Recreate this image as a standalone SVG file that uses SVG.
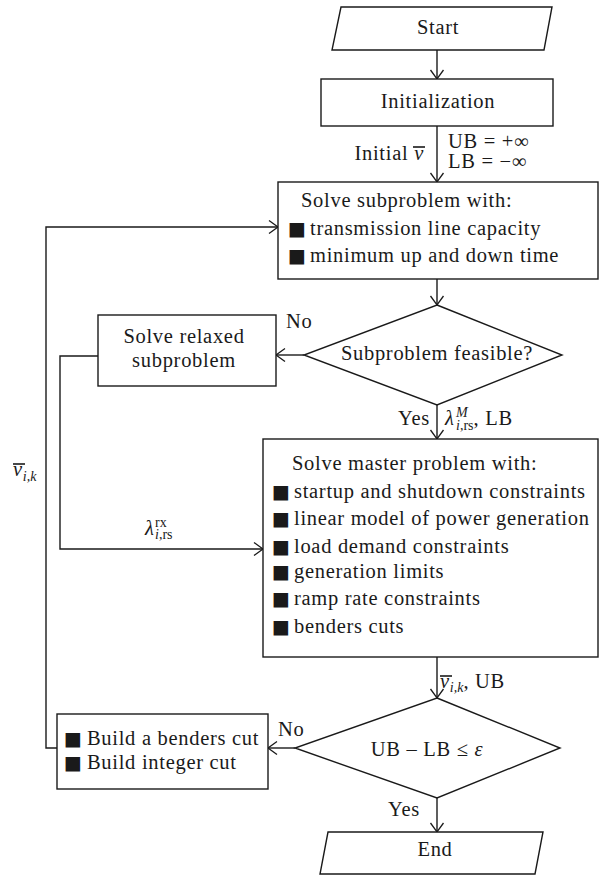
<svg xmlns="http://www.w3.org/2000/svg" width="600" height="877" viewBox="0 0 600 877">
<style>
text{font-family:"Liberation Serif","Times New Roman",serif;font-size:20.5px;fill:#1a1a1a;letter-spacing:0.7px}
.c{text-anchor:middle}
.e{text-anchor:end}
.it{font-style:italic}
.sm{font-size:14px;letter-spacing:0}
.b{font-family:"DejaVu Sans",sans-serif;font-size:19px;letter-spacing:0}
.shape{fill:#fff;stroke:#1a1a1a;stroke-width:1.4}
.ln{fill:none;stroke:#1a1a1a;stroke-width:1.4}
.bar{stroke:#1a1a1a;stroke-width:1.6}
</style>
<defs>
<marker id="ah" viewBox="-11 -8 13 16" refX="0" refY="0" markerWidth="13" markerHeight="16" markerUnits="userSpaceOnUse" orient="auto">
<path d="M-9,-6.5 L0,0 L-9,6.5" fill="none" stroke="#1a1a1a" stroke-width="1.3"/>
</marker>
</defs>
<rect width="600" height="877" fill="#fff"/>
<g id="connectors">
<line class="ln" x1="437" y1="50" x2="437" y2="79" marker-end="url(#ah)"/>
<line class="ln" x1="437" y1="126" x2="437" y2="182" marker-end="url(#ah)"/>
<line class="ln" x1="437" y1="279" x2="437" y2="305" marker-end="url(#ah)"/>
<line class="ln" x1="304" y1="355" x2="276" y2="355" marker-end="url(#ah)"/>
<path class="ln" d="M98,356 H60 V549 H263" marker-end="url(#ah)"/>
<line class="ln" x1="437" y1="405" x2="437" y2="439" marker-end="url(#ah)"/>
<line class="ln" x1="437" y1="657" x2="437" y2="698" marker-end="url(#ah)"/>
<line class="ln" x1="295" y1="748" x2="268" y2="748" marker-end="url(#ah)"/>
<path class="ln" d="M57,748 H46 V227 H278" marker-end="url(#ah)"/>
<line class="ln" x1="437" y1="798" x2="437" y2="832" marker-end="url(#ah)"/>
</g>
<g id="labels">
<text x="424" y="160" class="e">Initial <tspan class="it">ν</tspan></text>
<line class="bar" x1="413" y1="147" x2="425" y2="147"/>
<text x="448" y="148">UB = +∞</text>
<text x="448" y="168">LB = −∞</text>
<text x="286" y="328">No</text>
<text x="398" y="425">Yes</text>
<text x="445" y="425"><tspan class="it">λ</tspan><tspan x="456" dy="-8" class="sm it">M</tspan><tspan x="456" dy="13" class="sm"><tspan class="it">i</tspan>,rs</tspan><tspan dy="-5">, LB</tspan></text>
<text x="145" y="535"><tspan class="it">λ</tspan><tspan x="155" dy="-8" class="sm">rx</tspan><tspan x="155" dy="12" class="sm"><tspan class="it">i</tspan>,rs</tspan></text>
<text x="13" y="476"><tspan class="it">ν</tspan><tspan dy="5" class="sm it">i,k</tspan></text>
<line class="bar" x1="13" y1="464" x2="25" y2="464"/>
<text x="440" y="688"><tspan class="it">ν</tspan><tspan dy="4" class="sm it">i,k</tspan><tspan dy="-4">, UB</tspan></text>
<line class="bar" x1="440" y1="676" x2="452" y2="676"/>
<text x="278" y="736">No</text>
<text x="388" y="816">Yes</text>
</g>
<g id="start">
<polygon class="shape" points="341,7 552,7 544,50 332,50"/>
<text x="438" y="34" class="c">Start</text>
</g>
<g id="init">
<rect class="shape" x="321" y="79" width="232" height="47"/>
<text x="438" y="108" class="c">Initialization</text>
</g>
<g id="subproblem">
<rect class="shape" x="278" y="182" width="320" height="97"/>
<text x="301" y="207">Solve subproblem with:</text>
<text x="288" y="235"><tspan class="b">■</tspan><tspan x="310">transmission line capacity</tspan></text>
<text x="288" y="262"><tspan class="b">■</tspan><tspan x="310">minimum up and down time</tspan></text>
</g>
<g id="feasible">
<polygon class="shape" points="437,305 562,355 437,405 304,355"/>
<text x="437" y="360" class="c">Subproblem feasible?</text>
</g>
<g id="relaxed">
<rect class="shape" x="98" y="315" width="178" height="71"/>
<text x="184" y="343" class="c">Solve relaxed</text>
<text x="184" y="367" class="c">subproblem</text>
</g>
<g id="master">
<rect class="shape" x="263" y="439" width="335" height="218"/>
<text x="292" y="470">Solve master problem with:</text>
<text x="272" y="498"><tspan class="b">■</tspan><tspan x="294">startup and shutdown constraints</tspan></text>
<text x="272" y="525"><tspan class="b">■</tspan><tspan x="294">linear model of power generation</tspan></text>
<text x="272" y="553"><tspan class="b">■</tspan><tspan x="294">load demand constraints</tspan></text>
<text x="272" y="578"><tspan class="b">■</tspan><tspan x="294">generation limits</tspan></text>
<text x="272" y="605"><tspan class="b">■</tspan><tspan x="294">ramp rate constraints</tspan></text>
<text x="272" y="633"><tspan class="b">■</tspan><tspan x="294">benders cuts</tspan></text>
</g>
<g id="converge">
<polygon class="shape" points="437,698 560,748 437,798 295,748"/>
<text x="427" y="756" class="c">UB – LB ≤ <tspan class="it">ε</tspan></text>
</g>
<g id="build">
<rect class="shape" x="57" y="714" width="211" height="75"/>
<text x="64" y="745"><tspan class="b">■</tspan><tspan x="87">Build a benders cut</tspan></text>
<text x="64" y="769"><tspan class="b">■</tspan><tspan x="87">Build integer cut</tspan></text>
</g>
<g id="end">
<polygon class="shape" points="328,832 543,832 535,874 320,874"/>
<text x="435" y="856" class="c">End</text>
</g>
</svg>
